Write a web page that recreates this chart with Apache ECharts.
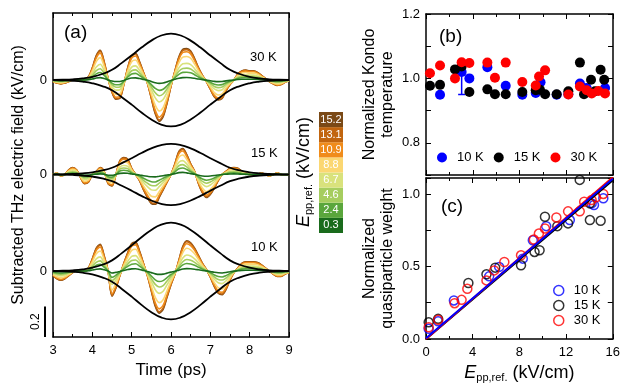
<!DOCTYPE html>
<html><head><meta charset="utf-8">
<script src="https://cdn.jsdelivr.net/npm/echarts@6/dist/echarts.min.js"></script>
<style>html,body{margin:0;padding:0;background:#fff}#c{width:623px;height:386px}</style>
</head><body><div id="c"></div>
<script>
// ---------- Panel (a) data ----------
const tAxis = [3.0,3.1,3.2,3.3,3.4,3.5,3.6,3.7,3.8,3.9,4.0,4.1,4.2,4.3,4.4,4.5,4.6,4.7,4.8,4.9,5.0,5.1,5.2,5.3,5.4,5.5,5.6,5.7,5.8,5.9,6.0,6.1,6.2,6.3,6.4,6.5,6.6,6.7,6.8,6.9,7.0,7.1,7.2,7.3,7.4,7.5,7.6,7.7,7.8,7.9,8.0,8.1,8.2,8.3,8.4,8.5,8.6,8.7,8.8,8.9,9.0];
// waveform at the highest field (15.2 kV/cm) for each temperature
const wave10K = [-0.03,-0.05,-0.06,-0.05,-0.03,-0.01,0.0,0.0,0.0,0.02,0.08,0.15,0.175,0.1,0.0,-0.165,-0.11,-0.03,0.05,0.12,0.18,0.19,0.13,0.05,-0.03,-0.13,-0.23,-0.275,-0.25,-0.17,-0.09,-0.02,0.07,0.16,0.198,0.185,0.15,0.1,0.05,0.01,-0.04,-0.1,-0.145,-0.155,-0.12,-0.06,-0.01,0.02,0.05,0.06,0.06,0.06,0.055,0.04,0.02,0.0,-0.02,-0.035,-0.035,-0.02,-0.01];
const wave15K = [0.0,0.01,-0.01,0.0,0.03,0.045,0.03,-0.02,-0.06,-0.05,0.0,0.02,0.045,0.02,-0.06,-0.075,0.0,0.09,0.11,0.1,0.04,0.0,-0.04,-0.1,-0.15,-0.19,-0.195,-0.15,-0.1,-0.05,0.0,0.07,0.15,0.17,0.13,0.07,0.02,-0.06,-0.12,-0.15,-0.13,-0.09,-0.04,0.0,0.02,0.04,0.045,0.04,0.02,0.01,0.0,-0.005,0.0,0.01,0.0,-0.01,0.0,0.01,0.0,-0.005,0.0];
const wave30K = [-0.01,-0.02,-0.025,-0.02,-0.01,0.0,0.0,0.0,0.005,0.02,0.08,0.16,0.195,0.12,0.01,-0.08,-0.125,-0.12,-0.03,0.08,0.16,0.175,0.12,0.05,-0.02,-0.12,-0.22,-0.27,-0.24,-0.15,-0.04,0.06,0.15,0.2,0.205,0.19,0.14,0.08,0.03,-0.01,-0.06,-0.11,-0.13,-0.12,-0.07,-0.03,0.0,0.04,0.06,0.065,0.06,0.06,0.05,0.03,0.01,-0.01,-0.025,-0.035,-0.03,-0.015,-0.005];
const tempNames = ['10 K','15 K','30 K'];
const zeroOffsets = [0, 0.631, 1.248];          // vertical offset of each temperature's traces
const envAmp = [0.316, 0.2, 0.303];             // amplitude of black envelope
const eLevels = ['0.3','2.4','4.6','6.7','8.8','10.9','13.1','15.2'];
const eScale = [0.08,0.25,0.38,0.53,0.75,0.9,0.97,1.0];  // relative amplitude of each field level
const eColors = ['#1a6b1c','#5aa63c','#a6cd5f','#d9e27c','#fbd772','#f08c1b','#c1650f','#7a4916'];
const envT = [3.0,3.25,3.5,3.75,4.0,4.25,4.5,4.75,5.0,5.25,5.5,5.75,6.0,6.25,6.5,6.75,7.0,7.25,7.5,7.75,8.0,8.25,8.5,8.75,9.0];
const envShape = [0.002,0.006,0.015,0.035,0.07,0.13,0.22,0.37,0.53,0.7,0.85,0.96,1.0,0.96,0.85,0.7,0.53,0.37,0.22,0.13,0.07,0.035,0.015,0.006,0.002];
const aYMin = -0.431, aYMax = 1.686, scaleBar = 0.2;

// ---------- Panel (b) data ----------
const bX10 = [1.2,3.05,3.71,5.25,6.82,8.24,9.39,9.8,11.18,12.18,13.17,13.75,15.32];
const bY10 = [0.949,1.02,1.0,1.035,0.977,0.949,0.955,0.988,0.949,0.951,0.984,0.97,0.97];
const bX15 = [0.34,1.2,2.48,3.05,3.71,5.25,5.9,6.82,8.24,9.39,9.75,10.19,11.18,12.18,13.17,13.52,14.12,14.46,14.94,15.25];
const bY15 = [0.977,0.98,1.028,1.037,0.958,0.966,0.951,0.951,0.958,0.963,0.965,0.951,0.951,0.96,1.049,0.951,0.996,0.96,1.027,0.996];
const bX30 = [0.34,1.2,2.48,3.05,3.71,5.25,5.9,6.82,8.24,9.39,9.67,10.19,12.18,13.17,13.75,14.18,14.75,15.32];
const bY30 = [1.016,1.04,1.0,1.05,1.048,1.049,1.002,1.049,0.989,0.978,1.006,1.025,0.95,0.975,0.963,0.953,0.961,0.953];
const errX = [3.05,3.05];
const errY = [0.95,1.022];
const bTickLabels = ['0.8','1.0','1.2'];

// ---------- Panel (c) data ----------
const cX10 = [0.23,1.04,2.39,5.41,6.27,8.29,9.15,10.3,12.32,14.19,14.39,15.19];
const cY10 = [0.07,0.122,0.266,0.432,0.497,0.554,0.681,0.778,0.82,0.935,0.924,0.97];
const cX15 = [0.23,1.04,3.63,5.18,5.93,8.14,9.3,9.73,10.19,11.25,12.17,13.17,14.04,14.04,14.96];
const cY15 = [0.115,0.139,0.386,0.446,0.492,0.508,0.6,0.612,0.843,0.778,0.797,1.097,0.935,0.82,0.815];
const cX30 = [0.23,1.04,2.45,3.05,3.54,5.18,5.84,6.71,8.14,9.24,9.67,10.19,11.17,12.17,13.17,13.55,14.19,14.56,15.19];
const cY30 = [0.081,0.132,0.247,0.27,0.346,0.404,0.473,0.531,0.577,0.686,0.727,0.762,0.838,0.88,0.88,0.947,0.958,0.977,1.0];
const fitX = [0,16];
const fit10 = [0.005,1.105];
const fit15 = [0.0,1.095];
const fit30 = [0.0,1.115];
const cTickLabels = ['0.0','0.5','1.0'];
const tempColors = ['#0000ff','#000000','#ff0000'];

// ---------- chart ----------
const FONT = 'Liberation Sans, Arial, Helvetica, sans-serif';
const chart = echarts.init(document.getElementById('c'));
const zip = (xs, ys) => xs.map((x, i) => [x, ys[i]]);
const axisLine = {show:true, onZero:false, lineStyle:{color:'#000', width:1.5}};
const tick = {show:true, inside:true, length:5, lineStyle:{color:'#000', width:1}};
const minor = {show:true, splitNumber:2, length:3, lineStyle:{color:'#000', width:1}};
const lbl = {color:'#000', fontSize:13, fontFamily:FONT};
const noSplit = {show:false};
const richE = {
  e:{fontStyle:'italic', fontSize:18, fontFamily:FONT, color:'#000'},
  s:{fontSize:11, fontFamily:FONT, color:'#000', padding:[9,0,0,0]},
  n:{fontSize:18, fontFamily:FONT, color:'#000'}
};

function xAx(grid, pos, min, max, interval, showLbl, extra) {
  return Object.assign({gridIndex:grid, type:'value', position:pos, min, max, interval,
    axisLine, axisTick:tick, minorTick:minor, splitLine:noSplit, minorSplitLine:noSplit,
    axisLabel: showLbl ? Object.assign({margin:7}, lbl) : {show:false}}, extra || {});
}
function yAx(grid, pos, min, max, interval, labelFn, extra) {
  return Object.assign({gridIndex:grid, type:'value', position:pos, min, max, interval,
    axisLine, axisTick:tick, splitLine:noSplit,
    axisLabel: labelFn ? Object.assign({margin:6, formatter:labelFn}, lbl) : {show:false}}, extra || {});
}
const pick = (arr) => (v) => { const s = v.toFixed(1); return arr.includes(s) ? s : ''; };

const series = [];
const waves = [wave10K, wave15K, wave30K];
for (let k = 0; k < 3; k++) {
  for (let e = eLevels.length - 1; e >= 0; e--) {
    series.push({type:'line', xAxisIndex:0, yAxisIndex:0, symbol:'none', smooth:0.3, silent:true,
      data: tAxis.map((t, i) => [t, zeroOffsets[k] + waves[k][i] * eScale[e]]),
      lineStyle:{width:1.6, color:eColors[e]}, z:2});
  }
  [1, -1].forEach(sgn => series.push({type:'line', xAxisIndex:0, yAxisIndex:0, symbol:'none', smooth:true, silent:true,
    data: envT.map((t, i) => [t, zeroOffsets[k] + sgn * envAmp[k] * envShape[i]]),
    lineStyle:{width:1.8, color:'#000'}, z:3}));
}
const bNames = ['b10','b15','b30'], cNames = ['c10','c15','c30'];
const labelOf = {b10:tempNames[0], b15:tempNames[1], b30:tempNames[2], c10:tempNames[0], c15:tempNames[1], c30:tempNames[2]};
// panel b
series.push({type:'line', xAxisIndex:2, yAxisIndex:2, data: zip(errX, errY), symbol:'rect', symbolSize:[7,1.5],
  itemStyle:{color:tempColors[0]}, lineStyle:{color:tempColors[0], width:1.5}, silent:true, z:1});
[[bX10,bY10],[bX15,bY15],[bX30,bY30]].forEach((d, i) => series.push({
  name:bNames[i], type:'scatter', xAxisIndex:2, yAxisIndex:2, data:zip(d[0], d[1]), symbol:'circle', symbolSize:10,
  itemStyle:{color:tempColors[i], opacity:1}, silent:true, z:2}));
// panel c
[[cX10,cY10],[cX15,cY15],[cX30,cY30]].forEach((d, i) => series.push({
  name:cNames[i], type:'scatter', xAxisIndex:4, yAxisIndex:4, data:zip(d[0], d[1]), symbol:'circle', symbolSize:9,
  itemStyle:{color:'transparent', borderColor:tempColors[i], borderWidth:1.5}, silent:true, z:2}));
[[fit15,1],[fit30,2],[fit10,0]].forEach(([f, i]) => series.push({type:'line', xAxisIndex:4, yAxisIndex:4,
  data: zip(fitX, f), symbol:'none', lineStyle:{color:tempColors[i], width:2}, silent:true, z:3, clip:true}));

const graphics = [];
const txt = (text, x, y, size, extra) => graphics.push(Object.assign({type:'text', x, y,
  style:{text, fontSize:size, fontFamily:FONT, fill:'#000'}}, extra || {}));
txt('(a)', 64, 23, 19);
txt('(b)', 439, 27, 19);
txt('(c)', 441, 197, 19);
txt(tempNames[2], 250, 51, 13);
txt(tempNames[1], 251, 147, 13);
txt(tempNames[0], 251, 241, 13);
// colour bar
const cbX = 319, cbY = 112, cbW = 24, cbH = 121;
const cellH = cbH / eLevels.length;
eLevels.forEach((lv, i) => {
  const y = cbY + cbH - (i + 1) * cellH;
  graphics.push({type:'rect', shape:{x:cbX, y, width:cbW, height:cellH}, style:{fill:eColors[i], stroke:null}, silent:true});
  graphics.push({type:'text', x:cbX + cbW / 2, y:y + cellH / 2, style:{text:lv, fontSize:11, fontFamily:FONT, fill:'#fff', align:'center', verticalAlign:'middle'}});
});
graphics.push({type:'text', x:304, y:172, rotation:Math.PI / 2,
  style:{text:'{e|E}{s|pp,ref.}{n| (kV/cm)}', rich:richE, align:'center', verticalAlign:'middle'}});

chart.setOption({
  animation:false,
  backgroundColor:'#fff',
  textStyle:{fontFamily:FONT},
  grid:[
    {left:53, top:13, right:334, bottom:49},
    {left:426, top:14, right:10, bottom:211},
    {left:426, top:178, right:10, bottom:47}
  ],
  xAxis:[
    xAx(0, 'bottom', 3, 9, 1, true, {name:'Time (ps)', nameLocation:'middle', nameGap:25,
      nameTextStyle:{fontSize:17, color:'#000', fontFamily:FONT}}),
    xAx(0, 'top', 3, 9, 1, false),
    xAx(1, 'bottom', 0, 16, 4, false),
    xAx(1, 'top', 0, 16, 4, false),
    xAx(2, 'bottom', 0, 16, 4, true, {name:'{e|E}{s|pp,ref.}{n| (kV/cm)}', nameLocation:'middle', nameGap:24,
      nameTextStyle:{rich:richE}}),
    xAx(2, 'top', 0, 16, 4, false)
  ],
  yAxis:[
    {gridIndex:0, type:'value', position:'left', min:aYMin, max:aYMax, axisLine, axisTick:{show:false}, splitLine:noSplit,
      axisLabel:Object.assign({customValues:zeroOffsets, formatter:() => '0', margin:6}, lbl),
      name:'Subtracted THz electric field (kV/cm)', nameLocation:'middle', nameGap:26,
      nameTextStyle:{fontSize:16, color:'#000', fontFamily:FONT}},
    {gridIndex:0, type:'value', position:'right', min:aYMin, max:aYMax, axisLine, axisTick:{show:false}, splitLine:noSplit, axisLabel:{show:false}},
    yAx(1, 'left', 0.7, 1.2, 0.1, pick(bTickLabels), {name:'Normalized Kondo\ntemperature', nameLocation:'middle', nameGap:29,
      nameTextStyle:{fontSize:16, color:'#000', fontFamily:FONT, lineHeight:18}}),
    yAx(1, 'right', 0.7, 1.2, 0.1, null),
    yAx(2, 'left', 0, 1.11, 0.25, pick(cTickLabels), {name:'Normalized\nquasiparticle weight', nameLocation:'middle', nameGap:29,
      nameTextStyle:{fontSize:16, color:'#000', fontFamily:FONT, lineHeight:18}}),
    yAx(2, 'right', 0, 1.11, 0.25, null)
  ],
  legend:[
    {data:bNames, formatter:n => labelOf[n], orient:'horizontal', left:432, top:146, itemWidth:20, itemHeight:10, itemGap:10,
      icon:'circle', selectedMode:false, textStyle:{fontSize:13, color:'#000', fontFamily:FONT}},
    {data:cNames.map((n, i) => ({name:n, icon:'circle', itemStyle:{color:'transparent', borderColor:tempColors[i], borderWidth:1.5}})),
      formatter:n => labelOf[n], orient:'vertical', left:548, top:279, itemWidth:20, itemHeight:10, itemGap:2,
      selectedMode:false, textStyle:{fontSize:13, color:'#000', fontFamily:FONT}}
  ],
  series,
  graphic:graphics
});

// scale bar for panel (a), sized from the axis scale
const p0 = chart.convertToPixel({yAxisIndex:0}, aYMin);
const p1 = chart.convertToPixel({yAxisIndex:0}, aYMin + scaleBar);
graphics.push({type:'line', shape:{x1:45, y1:p0, x2:45, y2:p1}, style:{stroke:'#000', lineWidth:2}});
graphics.push({type:'text', x:36, y:(p0 + p1) / 2, rotation:Math.PI / 2,
  style:{text:String(scaleBar), fontSize:12, fontFamily:FONT, fill:'#000', align:'center', verticalAlign:'middle'}});
chart.setOption({graphic:graphics});
</script></body></html>
